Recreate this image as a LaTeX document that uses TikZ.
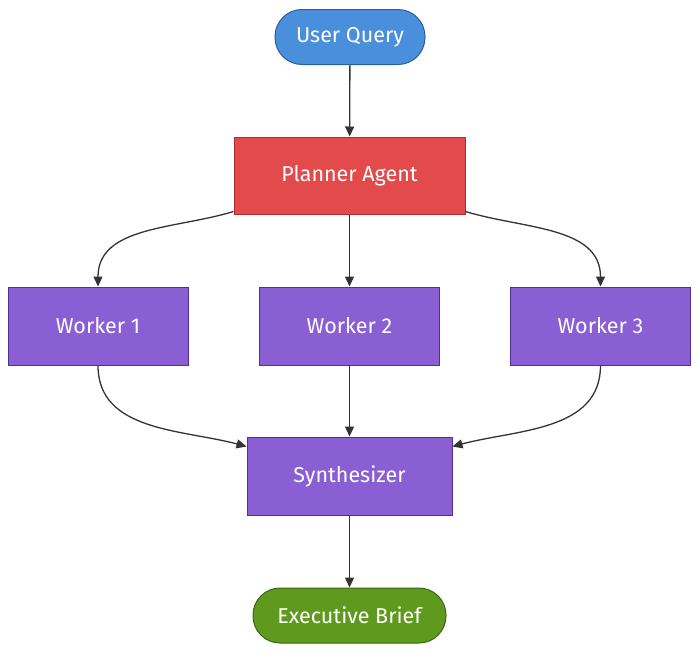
\documentclass[tikz,border=0pt]{standalone}
\usepackage{fontspec}
\setmainfont{Fira Sans}
\usepackage{xcolor}
\usepackage{tikz}
\usetikzlibrary{arrows.meta}

\definecolor{qblue}{HTML}{4A8FDB}
\definecolor{qblueline}{HTML}{2B5E9C}
\definecolor{pred}{HTML}{E24A4C}
\definecolor{predline}{HTML}{B02C30}
\definecolor{wpurple}{HTML}{8A5FD3}
\definecolor{wpurpleline}{HTML}{4F3195}
\definecolor{bgreen}{HTML}{5F9A1E}
\definecolor{bgreenline}{HTML}{3C6711}
\definecolor{flowline}{HTML}{333333}

\begin{document}
\begin{tikzpicture}[x=1pt, y=1pt,
  box/.style={draw, line width=1pt, text=white, font=\fontsize{21.5}{24}\selectfont, inner sep=0pt},
  pill/.style={box, rounded corners=27pt, minimum height=55pt},
  flow/.style={draw=flowline, line width=1.3pt, -{Triangle[length=10pt,width=9pt]}}]
  \useasboundingbox (0,0) rectangle (700,-654);
  % nodes
  \node[pill, fill=qblue, draw=qblueline, minimum width=150pt] (query) at (350,-37) {User Query};
  \node[box, fill=pred, draw=predline, minimum width=231pt, minimum height=77pt] (plan) at (349.5,-175.5) {Planner Agent};
  \node[box, fill=wpurple, draw=wpurpleline, minimum width=180pt, minimum height=78pt] (w1) at (98,-326) {Worker 1};
  \node[box, fill=wpurple, draw=wpurpleline, minimum width=180pt, minimum height=78pt] (w2) at (349.5,-326) {Worker 2};
  \node[box, fill=wpurple, draw=wpurpleline, minimum width=180pt, minimum height=78pt] (w3) at (600.5,-326) {Worker 3};
  \node[box, fill=wpurple, draw=wpurpleline, minimum width=205pt, minimum height=78pt] (synth) at (349.5,-476) {Synthesizer};
  \node[pill, fill=bgreen, draw=bgreenline, minimum width=193pt] (brief) at (349.5,-615.5) {Executive Brief};
  % edges
  \draw[flow] (query) -- (plan);
  \draw[flow] ([yshift=3pt]plan.south west) to[out=197, in=90] (w1.north);
  \draw[flow] (plan) -- (w2);
  \draw[flow] ([yshift=3pt]plan.south east) to[out=-17, in=90] (w3.north);
  \draw[flow] (w1.south) to[out=-90, in=165] ([yshift=-10pt]synth.north west);
  \draw[flow] (w2) -- (synth);
  \draw[flow] (w3.south) to[out=-90, in=15] ([yshift=-10pt]synth.north east);
  \draw[flow] (synth) -- (brief);
\end{tikzpicture}
\end{document}
